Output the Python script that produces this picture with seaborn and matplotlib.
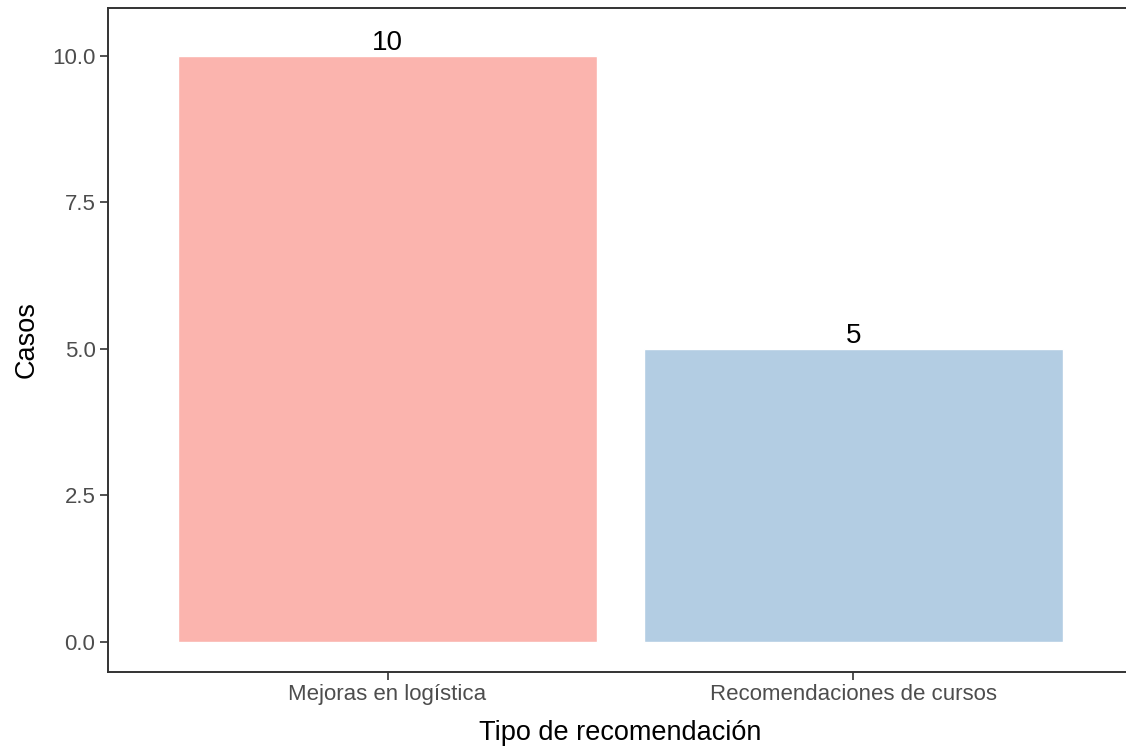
import seaborn as sns
import matplotlib.pyplot as plt
import pandas as pd

# datos
categorias = ["Mejoras en logística", "Recomendaciones de cursos"]
casos = [10, 5]
colores = ["#FBB4AE", "#B3CDE3"]
y_ticks = [0.0, 2.5, 5.0, 7.5, 10.0]

df = pd.DataFrame({"tipo": categorias, "casos": casos})

sns.set_theme(style="white")
plt.rcParams["font.family"] = ["Liberation Sans", "DejaVu Sans"]

fig = plt.figure(figsize=(11.26, 7.54), dpi=100)
# el panel se sale un poco por la derecha, como en el original
ax = fig.add_axes([0.0959, 0.1088, 0.9103, 0.8806])

sns.barplot(data=df, x="tipo", y="casos", hue="tipo", palette=colores,
            width=0.9, saturation=1, legend=False, ax=ax)

for i, v in enumerate(casos):
    ax.text(i, v, str(v), ha="center", va="bottom", fontsize=20, color="black")

ax.set_xlim(-0.6, 1.6)
ax.set_ylim(-0.52, 10.82)
ax.set_yticks(y_ticks)
ax.set_yticklabels([f"{t:.1f}" for t in y_ticks])

ax.set_xlabel("Tipo de recomendación", fontsize=19.5, color="black")
ax.set_ylabel("Casos", fontsize=19.5, color="black")
ax.xaxis.label.set_va("center")
ax.yaxis.label.set_va("center")
ax.xaxis.set_label_coords(0.5, -0.092)
ax.yaxis.set_label_coords(-0.079, 0.5)

for s in ax.spines.values():
    s.set_visible(True)
    s.set_color("#333333")
    s.set_linewidth(1.4)

ax.tick_params(axis="both", which="major", length=6, width=1.2, color="#333333",
               labelsize=16, labelcolor="#4D4D4D", left=True, bottom=True, pad=3)

fig.savefig("out.png", dpi=100)
